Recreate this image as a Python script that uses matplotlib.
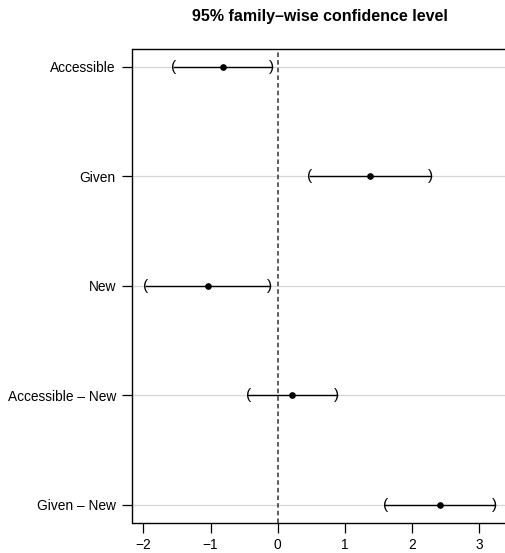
import matplotlib
matplotlib.use("Agg")
import matplotlib.pyplot as plt

# Simultaneous confidence intervals for the linear hypotheses
contrasts = ["Accessible", "Given", "New", "Accessible \u2013 New", "Given \u2013 New"]
estimates = [-0.82, 1.38, -1.04, 0.22, 2.42]
lower = [-1.55, 0.48, -1.96, -0.44, 1.60]
upper = [-0.09, 2.28, -0.12, 0.88, 3.23]
x_ticks = [-2, -1, 0, 1, 2, 3]

plt.rcParams['font.family'] = ['Liberation Sans', 'DejaVu Sans']

W, H = 506, 553
fig = plt.figure(figsize=(W / 100, H / 100), dpi=100)
left_px, right_px, top_px, bottom_px = 132.5, 520, 49.3, 522.5
ax = fig.add_axes([left_px / W, 1 - bottom_px / H,
                   (right_px - left_px) / W, (bottom_px - top_px) / H])

px_per_unit = 67.2
x0_px = 277.7
ax.set_xlim((left_px - x0_px) / px_per_unit, (right_px - x0_px) / px_per_unit)
n = len(contrasts)
pad = 0.04 * (n - 1)
ax.set_ylim(n + pad, 1 - pad)

ys = list(range(1, n + 1))
for y in ys:
    ax.axhline(y, color='#d6d6d6', lw=0.9, zorder=0)

ax.axvline(0, color='#333333', lw=1.1, ls=(0, (3, 2)), zorder=1)

for y, est, lo, hi in zip(ys, estimates, lower, upper):
    ax.plot([lo, hi], [y, y], color='black', lw=1.0, zorder=2)
    ax.text(lo, y, "(", ha='center', va='center', fontsize=11, zorder=3)
    ax.text(hi, y, ")", ha='center', va='center', fontsize=11, zorder=3)
    ax.plot(est, y, 'o', color='black', ms=3.8, zorder=4)

ax.set_yticks(ys)
ax.set_yticklabels(contrasts)
ax.set_xticks(x_ticks)
ax.set_xticklabels([f"{t}".replace('-', '\u2212') for t in x_ticks])
ax.tick_params(axis='both', direction='out', length=7, width=0.9,
               labelsize=9.9, color='black')
ax.tick_params(axis='y', pad=5)
ax.tick_params(axis='x', pad=4)

for s in ['left', 'top', 'bottom']:
    ax.spines[s].set_linewidth(1.0)
    ax.spines[s].set_color('black')
ax.spines['right'].set_visible(False)

fig.text(320 / W, 1 - 16 / H, "95% family\u2013wise confidence level",
         ha='center', va='center', fontsize=11.5, fontweight='bold')

fig.savefig("out.png", dpi=100)
